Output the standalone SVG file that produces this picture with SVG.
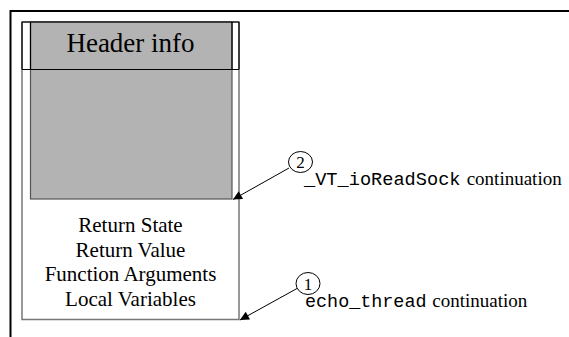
<svg xmlns="http://www.w3.org/2000/svg" width="569" height="337" viewBox="0 0 569 337">
<defs>
<style>
.t{font-family:"Liberation Serif","Times New Roman",serif;fill:#000}
.m{font-family:"Liberation Mono","Courier New",monospace;fill:#000}
.ln{stroke:#000;stroke-width:1;fill:none}
.circ{fill:#fff;stroke:#000;stroke-width:1}
</style>
<marker id="ah" viewBox="0 0 10 10" refX="10" refY="5" markerWidth="12" markerHeight="9" markerUnits="userSpaceOnUse" orient="auto">
<path d="M0,0 L10,5 L0,10 z" fill="#000"/>
</marker>
</defs>
<rect width="569" height="337" fill="#fff"/>
<g id="frame">
<path d="M10.5,337 V11 H569" fill="none" stroke="#000" stroke-width="2"/>
</g>
<g id="stack">
<rect x="22" y="22" width="217" height="297.5" fill="#fff" stroke="#777" stroke-width="1.5"/>
<rect x="30.5" y="22" width="201.5" height="177" fill="#b3b3b3" stroke="#555" stroke-width="1.2"/>
<path d="M22,22 H239 M22,69.5 H239 M22,22 V69.5 M239,22 V69.5 M30.5,22 V69.5 M232,22 V69.5" stroke="#000" stroke-width="1.2" fill="none"/>
<text class="t" x="130.5" y="52" font-size="27" text-anchor="middle">Header info</text>
<text class="t" x="130.5" y="232" font-size="21" text-anchor="middle">Return State</text>
<text class="t" x="130.5" y="256.5" font-size="21" text-anchor="middle">Return Value</text>
<text class="t" x="130.5" y="281" font-size="21" text-anchor="middle">Function Arguments</text>
<text class="t" x="130.5" y="305.5" font-size="21" text-anchor="middle">Local Variables</text>
</g>
<g id="connectors">
<line class="ln" x1="289" y1="168" x2="233" y2="199.5" marker-end="url(#ah)"/>
<line class="ln" x1="297" y1="288.5" x2="240" y2="320" marker-end="url(#ah)"/>
</g>
<g id="label2">
<ellipse class="circ" cx="300.5" cy="162" rx="12" ry="10.5"/>
<text class="t" x="300.5" y="168" font-size="17" text-anchor="middle">2</text>
<text class="m" x="304" y="185" font-size="18.6" textLength="156.5" lengthAdjust="spacingAndGlyphs">_VT_ioReadSock</text>
<text class="t" x="466.7" y="185" font-size="19">continuation</text>
</g>
<g id="label1">
<ellipse class="circ" cx="308" cy="283.5" rx="12" ry="11"/>
<text class="t" x="308" y="289.5" font-size="17" text-anchor="middle">1</text>
<text class="m" x="305" y="306.5" font-size="18.4" textLength="121.5" lengthAdjust="spacingAndGlyphs">echo_thread</text>
<text class="t" x="432.3" y="306.5" font-size="19">continuation</text>
</g>
</svg>
